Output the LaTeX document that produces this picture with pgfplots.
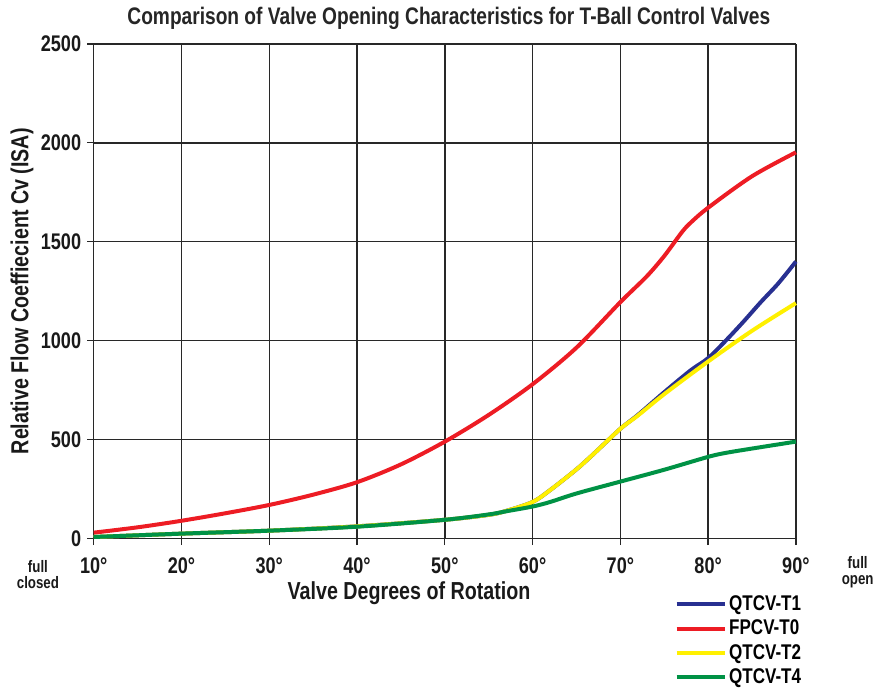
\documentclass[border=0pt]{standalone}
\usepackage{pgfplots}
\pgfplotsset{compat=1.18}
\usepackage{fontspec}
\setmainfont{Liberation Sans}[FakeStretch=0.8]
\definecolor{cblue}{RGB}{40,48,145}
\definecolor{cred}{RGB}{237,28,36}
\definecolor{cyellow}{RGB}{255,240,0}
\definecolor{cgreen}{RGB}{0,146,69}
\definecolor{cgrid}{RGB}{40,40,40}
\begin{document}
\begin{tikzpicture}
\begin{axis}[
  scale only axis,
  width=528pt, height=372pt,
  xmin=10, xmax=90, ymin=0, ymax=2500,
  xtick={10,20,...,90},
  xticklabels={10°,20°,30°,40°,50°,60°,70°,80°,90°},
  ytick={0,500,...,2500},
  /pgf/number format/assume math mode=true,
  /pgf/number format/1000 sep={},
  tick label style={font=\fontsize{17}{19}\selectfont\bfseries, text=black!90},
  xticklabel style={yshift=-6pt},
  yticklabel style={xshift=-1pt},
  tick align=outside,
  major tick length=5pt,
  tick style={draw=cgrid, line width=1pt},
  xtick pos=bottom, ytick pos=left,
  grid=major,
  major grid style={draw=cgrid, line width=1.1pt},
  axis line style={draw=cgrid, line width=1.1pt},
  axis x line*=bottom,
  axis y line*=left,
  clip=false,
  legend style={at={(rel axis cs:0.827,-0.110)}, anchor=north west, draw=none, fill=none,
    font=\fontsize{16}{17}\selectfont\bfseries, row sep=1.5pt, inner sep=0pt},
  legend cell align=left,
  legend image code/.code={\draw[#1, line width=3pt] (0pt,0pt) -- (36pt,0pt);},
]
\addplot[cblue, line width=3pt, smooth] coordinates {
 (10,8) (20,25) (30,40) (40,62) (50,95) (55,120) (57,140) (60,185) (62,245) (65,350) (67,430) (70,555) (72,625) (75,740) (78,850) (80,912) (82,1000) (84,1095) (86,1195) (88,1290) (90,1400)};
\addlegendentry{QTCV-T1}
\addplot[cred, line width=3pt, smooth] coordinates {
 (10,30) (15,57) (20,90) (25,128) (30,170) (35,222) (40,285) (45,375) (50,490) (55,625) (60,780) (65,965) (70,1195) (73,1325) (75,1428) (77,1548) (78,1596) (80,1672) (85,1831) (90,1952)};
\addlegendentry{FPCV-T0}
\addplot[cyellow, line width=3pt, smooth] coordinates {
 (10,8) (20,25) (30,40) (40,62) (50,95) (55,120) (57,140) (60,185) (62,245) (65,350) (67,430) (70,555) (72,622) (75,730) (80,895) (85,1050) (90,1190)};
\addlegendentry{QTCV-T2}
\addplot[cgreen, line width=3pt, smooth] coordinates {
 (10,8) (20,25) (30,40) (40,60) (50,95) (55,122) (57,138) (60,162) (62,185) (65,228) (70,288) (75,348) (80,413) (82,433) (85,455) (90,490)};
\addlegendentry{QTCV-T4}
\node[font=\fontsize{18}{20}\selectfont\bfseries, text=black!85] at (rel axis cs:0.5057,1.052) {Comparison of Valve Opening Characteristics for T-Ball Control Valves};
\node[font=\fontsize{18.5}{20}\selectfont\bfseries, text=black!90] at (rel axis cs:0.449,-0.111) {Valve Degrees of Rotation};
\node[font=\fontsize{18.5}{20}\selectfont\bfseries, text=black!90, rotate=90] at (rel axis cs:-0.1023,0.5) {Relative Flow Coeffiecient Cv (ISA)};
\node[font=\fontsize{12.5}{12}\selectfont\bfseries, align=center, text=black!90] at (rel axis cs:-0.0795,-0.0726) {full\\closed};
\node[font=\fontsize{12.5}{12}\selectfont\bfseries, align=center, text=black!90] at (rel axis cs:1.088,-0.0685) {full\\open};
\end{axis}
\path ([shift={(-70.5pt,-114pt)}]current axis.south west) rectangle ([shift={(60pt,33pt)}]current axis.north east);
\end{tikzpicture}
\end{document}
